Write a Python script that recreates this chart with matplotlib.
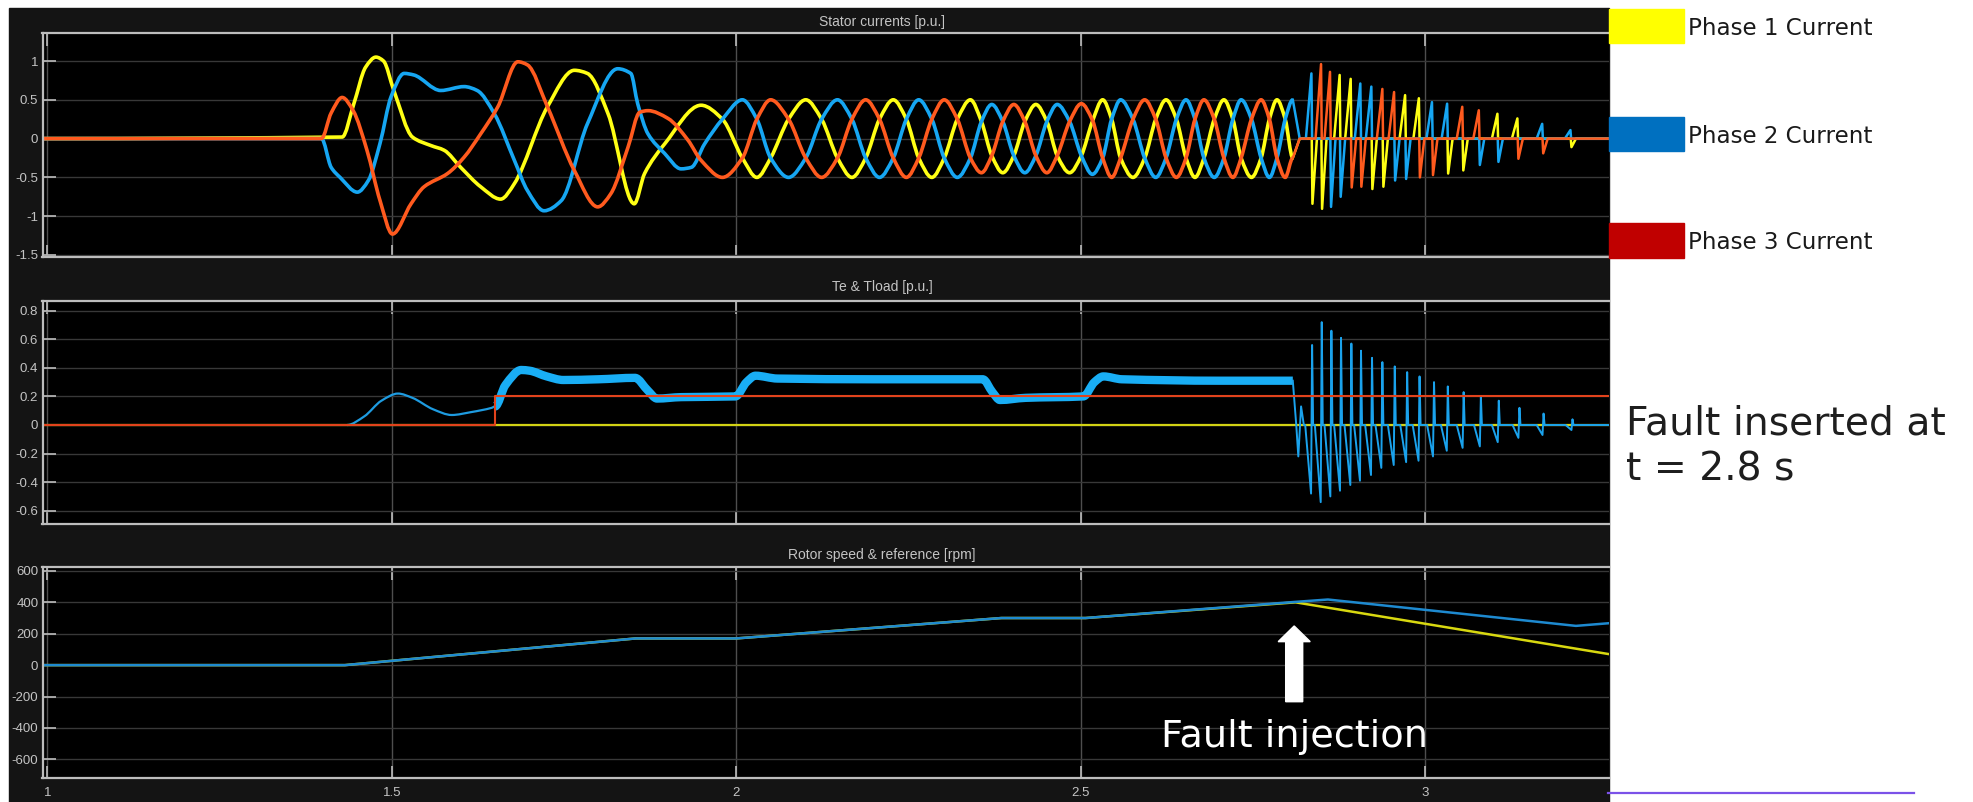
import numpy as np
import matplotlib
matplotlib.use("Agg")
import matplotlib.pyplot as plt
import matplotlib.transforms as mtransforms
from matplotlib.patches import Rectangle, FancyArrow, PathPatch
from matplotlib.lines import Line2D
from matplotlib.path import Path

# ---- time axis / shared ----
t_start, t_end = 0.993, 3.267
fault_time = 2.81
xticks = [1, 1.5, 2, 2.5, 3]
xticklabels = ["1", "1.5", "2", "2.5", "3"]

# ---- stator currents: start-up transient ----
ph1_t = [t_start, 1.428, 1.445, 1.462, 1.477, 1.488, 1.503, 1.530, 1.557, 1.576, 1.600,
         1.629, 1.658, 1.678, 1.726, 1.765, 1.784, 1.814, 1.852, 1.867, 1.896, 1.949]
ph1_v = [0, 0.02, 0.45, 0.92, 1.05, 1.0, 0.62, 0.02, -0.09, -0.15, -0.37,
         -0.62, -0.78, -0.58, 0.41, 0.88, 0.84, 0.32, -0.84, -0.45, -0.07, 0.43]
ph2_t = [t_start, 1.398, 1.412, 1.425, 1.450, 1.466, 1.483, 1.499, 1.518, 1.532, 1.571,
         1.605, 1.624, 1.649, 1.678, 1.697, 1.721, 1.746, 1.784, 1.828, 1.847, 1.857,
         1.872, 1.896, 1.920, 1.935, 1.954]
ph2_v = [0, 0, -0.37, -0.5, -0.69, -0.54, -0.06, 0.54, 0.84, 0.82, 0.62,
         0.67, 0.62, 0.32, -0.28, -0.67, -0.93, -0.8, 0.19, 0.9, 0.84, 0.45,
         0.06, -0.19, -0.39, -0.37, -0.07]
ph3_t = [t_start, 1.398, 1.412, 1.428, 1.444, 1.464, 1.483, 1.501, 1.528, 1.547, 1.581,
         1.605, 1.629, 1.654, 1.683, 1.697, 1.726, 1.765, 1.799, 1.818, 1.843, 1.860,
         1.872, 1.901, 1.930, 1.949]
ph3_v = [0, 0, 0.33, 0.53, 0.36, -0.15, -0.8, -1.23, -0.84, -0.62, -0.45,
         -0.24, 0.06, 0.41, 0.99, 0.95, 0.41, -0.41, -0.88, -0.71, -0.11, 0.34,
         0.36, 0.26, -0.02, -0.28]

# ---- stator currents: running section (peaks / crossings) ----
run_t = [1.980, 2.009, 2.030, 2.050, 2.076, 2.101,
         2.124, 2.147, 2.168, 2.188, 2.208, 2.228,
         2.247, 2.265, 2.284, 2.302, 2.321, 2.340,
         2.356, 2.371, 2.387, 2.403, 2.419, 2.435,
         2.451, 2.466, 2.484, 2.501, 2.517, 2.532,
         2.545, 2.558, 2.576, 2.593, 2.609, 2.624,
         2.639, 2.653, 2.666, 2.679, 2.694, 2.708,
         2.721, 2.733, 2.748, 2.762, 2.774, 2.785,
         2.797, 2.808]
run_ph1 = [0.25, -0.25, -0.5, -0.25, 0.25, 0.5,
           0.25, -0.25, -0.5, -0.25, 0.25, 0.5,
           0.25, -0.25, -0.5, -0.25, 0.25, 0.5,
           0.22, -0.22, -0.44, -0.22, 0.22, 0.44,
           0.22, -0.22, -0.44, -0.22, 0.22, 0.5,
           0.25, -0.25, -0.5, -0.25, 0.25, 0.5,
           0.25, -0.25, -0.5, -0.25, 0.25, 0.5,
           0.25, -0.25, -0.5, -0.25, 0.25, 0.5,
           0.25, -0.25]
run_ph2 = [0.25, 0.5, 0.25, -0.25, -0.5, -0.25,
           0.25, 0.5, 0.25, -0.25, -0.5, -0.25,
           0.25, 0.5, 0.25, -0.25, -0.5, -0.25,
           0.22, 0.44, 0.22, -0.22, -0.44, -0.22,
           0.22, 0.44, 0.22, -0.22, -0.46, -0.25,
           0.25, 0.5, 0.25, -0.25, -0.5, -0.25,
           0.25, 0.5, 0.25, -0.25, -0.5, -0.25,
           0.25, 0.5, 0.25, -0.25, -0.5, -0.25,
           0.25, 0.5]
run_ph3 = [-0.5, -0.25, 0.25, 0.5, 0.25, -0.25,
           -0.5, -0.25, 0.25, 0.5, 0.25, -0.25,
           -0.5, -0.25, 0.25, 0.5, 0.25, -0.25,
           -0.44, -0.22, 0.22, 0.44, 0.22, -0.22,
           -0.44, -0.22, 0.22, 0.45, 0.24, -0.25,
           -0.5, -0.25, 0.25, 0.5, 0.25, -0.25,
           -0.5, -0.25, 0.25, 0.5, 0.25, -0.25,
           -0.5, -0.25, 0.25, 0.5, 0.25, -0.25,
           -0.5, -0.25]

# ---- stator currents after the fault: spike pairs ----
spike_t = [2.835, 2.849, 2.862, 2.876, 2.892, 2.906, 2.922, 2.938, 2.955, 2.971,
           2.991, 3.010, 3.032, 3.054, 3.078, 3.105, 3.134, 3.170, 3.211]
spike_up_phase = [2, 3, 3, 1, 1, 2, 2, 3, 3, 1, 1, 2, 2, 3, 3, 1, 1, 2, 2]
spike_up_amp = [0.84, 0.96, 0.86, 0.82, 0.77, 0.71, 0.67, 0.64, 0.60, 0.56,
                0.52, 0.47, 0.45, 0.41, 0.365, 0.32, 0.26, 0.19, 0.11]
spike_dn_phase = [1, 1, 2, 2, 3, 3, 1, 1, 2, 2, 3, 3, 1, 1, 2, 2, 3, 3, 1]
spike_dn_amp = [-0.84, -0.905, -0.88, -0.75, -0.63, -0.62, -0.65, -0.62, -0.54, -0.52,
                -0.50, -0.47, -0.45, -0.41, -0.34, -0.30, -0.26, -0.19, -0.11]

# ---- electromagnetic torque & load torque ----
te_t = [1.435, 1.460, 1.485, 1.509, 1.530, 1.560, 1.587, 1.615, 1.645, 1.650]
te_v = [0, 0.06, 0.17, 0.22, 0.19, 0.11, 0.07, 0.09, 0.12, 0.13]
te_band_t = [1.650, 1.665, 1.688, 1.700, 1.725, 1.749, 1.800, 1.853, 1.872, 1.885, 1.920,
             1.999, 2.015, 2.028, 2.060, 2.200, 2.358, 2.372, 2.383, 2.420, 2.504,
             2.520, 2.533, 2.560, 2.700, 2.808]
te_band_v = [0.13, 0.28, 0.385, 0.38, 0.34, 0.315, 0.32, 0.33, 0.24, 0.185, 0.195,
             0.20, 0.30, 0.345, 0.325, 0.32, 0.32, 0.23, 0.175, 0.19, 0.20,
             0.30, 0.34, 0.32, 0.31, 0.31]
te_spike_t = [2.836, 2.850, 2.864, 2.878, 2.893, 2.907, 2.923, 2.938, 2.956, 2.974,
              2.992, 3.013, 3.033, 3.056, 3.081, 3.107, 3.137, 3.172, 3.214]
te_spike_up = [0.56, 0.72, 0.66, 0.61, 0.57, 0.52, 0.47, 0.44, 0.41, 0.37,
               0.34, 0.30, 0.27, 0.23, 0.20, 0.17, 0.12, 0.08, 0.04]
te_spike_dn = [-0.48, -0.54, -0.50, -0.46, -0.42, -0.39, -0.35, -0.30, -0.28, -0.26,
               -0.25, -0.22, -0.18, -0.16, -0.15, -0.12, -0.09, -0.07, -0.035]
tload_t = [t_start, 1.650, 1.650, t_end]
tload_v = [0, 0, 0.2, 0.2]

# ---- rotor speed & reference ----
speed_t = [t_start, 1.432, 1.854, 2.000, 2.385, 2.507, 2.812, 2.859, 3.219, t_end]
speed_v = [0, 0, 170, 170, 300, 300, 403, 418, 250, 267]
ref_t = [t_start, 1.432, 1.854, 2.000, 2.385, 2.507, 2.812, t_end]
ref_v = [0, 0, 170, 170, 300, 300, 400, 70]

legend_labels = ["Phase 1 Current", "Phase 2 Current", "Phase 3 Current"]
legend_colors = ["#FFFF00", "#0070C0", "#C00000"]

# ---- colours ----
C_YEL = "#FFFF14"
C_BLU = "#16A6F2"
C_ORG = "#FF5A1E"
PANEL_BG = "#141414"
TXT = "#c4c4c4"
NOTE_FONT = "DejaVu Sans"


def smooth_path(t, v):
    """Monotone cubic (Bezier) path through the given knots."""
    t = np.asarray(t, float)
    v = np.asarray(v, float)
    d = np.diff(v) / np.diff(t)
    m = np.zeros_like(v)
    for i in range(1, len(v) - 1):
        if d[i - 1] * d[i] > 0:
            m[i] = 2 / (1 / d[i - 1] + 1 / d[i])
    verts = [(t[0], v[0])]
    codes = [Path.MOVETO]
    for i in range(len(t) - 1):
        h = t[i + 1] - t[i]
        verts += [(t[i] + h / 3, v[i] + m[i] * h / 3),
                  (t[i + 1] - h / 3, v[i + 1] - m[i + 1] * h / 3),
                  (t[i + 1], v[i + 1])]
        codes += [Path.CURVE4] * 3
    return Path(verts, codes)


def phase_after_fault(phase, t0, v0):
    t, v = [t0, 2.818], [v0, 0.0]
    for ts, up, ua, dn, da in zip(spike_t, spike_up_phase, spike_up_amp,
                                  spike_dn_phase, spike_dn_amp):
        if up == phase:
            t += [ts - 0.008, ts, ts + 0.001]
            v += [0.0, ua, 0.0]
        if dn == phase:
            t += [ts + 0.0005, ts + 0.0015, ts + 0.008]
            v += [0.0, da, 0.0]
    t.append(t_end)
    v.append(0.0)
    order = np.argsort(t, kind="stable")
    return np.array(t)[order], np.array(v)[order]


def te_after_fault():
    t = [2.808, 2.813, 2.816, 2.820, 2.824]
    v = [0.31, 0.0, -0.22, 0.13, 0.0]
    for ts, up, dn in zip(te_spike_t, te_spike_up, te_spike_dn):
        t += [ts - 0.010, ts - 0.0015, ts, ts + 0.0015]
        v += [0.0, dn, up, 0.0]
    t.append(t_end)
    v.append(0.0)
    return t, v


W, H = 1973, 802
fig = plt.figure(figsize=(W / 100, H / 100), dpi=100)
fig.patch.set_facecolor("white")

# dark scope panel
fig.patches.append(Rectangle((9 / W, 0), (1609 - 9) / W, 1 - 8 / H,
                             transform=fig.transFigure, color=PANEL_BG, zorder=-5))

AX_L, AX_R = 42.5, 1609


def make_axes(top, bottom):
    ax = fig.add_axes([AX_L / W, 1 - bottom / H, (AX_R - AX_L) / W, (bottom - top) / H])
    ax.set_facecolor("black")
    ax.set_xlim(t_start, t_end)
    ax.set_xticks(xticks)
    for side in ["top", "bottom", "left"]:
        ax.spines[side].set_color("#bdbdbd")
        ax.spines[side].set_linewidth(1.6)
    ax.spines["right"].set_visible(False)
    ax.tick_params(direction="in", length=9, width=1.2, color="#bdbdbd",
                   labelcolor=TXT, labelsize=9.5, pad=3, top=True)
    ax.xaxis.grid(True, color="#4e4e4e", lw=1.0)
    ax.yaxis.grid(True, color="#383838", lw=1.0)
    ax.set_axisbelow(True)
    return ax


ax1 = make_axes(33.3, 256.7)
ax2 = make_axes(300.7, 524.0)
ax3 = make_axes(566.7, 778.3)

# stator currents
phase_data = [(ph1_t, ph1_v, run_ph1, C_YEL), (ph2_t, ph2_v, run_ph2, C_BLU),
              (ph3_t, ph3_v, run_ph3, C_ORG)]
for k, (tt, vv, rv, col) in enumerate(phase_data, start=1):
    t_all = np.concatenate([tt, run_t])
    v_all = np.concatenate([vv, rv])
    ax1.add_patch(PathPatch(smooth_path(t_all, v_all), facecolor="none",
                            edgecolor=col, lw=2.6, joinstyle="round"))
    ft, fv = phase_after_fault(k, t_all[-1], v_all[-1])
    ax1.plot(ft, fv, color=col, lw=1.8, solid_joinstyle="round")
ax1.set_ylim(-1.522, 1.357)
ax1.set_yticks([-1.5, -1, -0.5, 0, 0.5, 1])
ax1.set_yticklabels(["-1.5", "-1", "-0.5", "0", "0.5", "1"], family="Liberation Sans")
ax1.set_xticklabels([])

# torque
ax2.plot([t_start, t_end], [0, 0], color="#D2D214", lw=1.6)
ax2.add_patch(PathPatch(smooth_path(te_t, te_v), facecolor="none",
                        edgecolor="#1E9BE0", lw=1.6))
ax2.add_patch(PathPatch(smooth_path(te_band_t, te_band_v), facecolor="none",
                        edgecolor="#19AEF5", lw=6.0, joinstyle="round"))
ft, fv = te_after_fault()
ax2.plot(ft, fv, color="#1AA2EC", lw=1.4)
ax2.plot(tload_t, tload_v, color="#E2431C", lw=1.5)
ax2.set_ylim(-0.693, 0.87)
ax2.set_yticks([-0.6, -0.4, -0.2, 0, 0.2, 0.4, 0.6, 0.8])
ax2.set_yticklabels(["-0.6", "-0.4", "-0.2", "0", "0.2", "0.4", "0.6", "0.8"],
                    family="Liberation Sans")
ax2.set_xticklabels([])

# speed
ax3.plot(ref_t, ref_v, color="#D8D810", lw=1.8)
ax3.plot(speed_t, speed_v, color="#1E8AD0", lw=1.8)
ax3.set_ylim(-721, 627)
ax3.set_yticks([-600, -400, -200, 0, 200, 400, 600])
ax3.set_yticklabels(["-600", "-400", "-200", "0", "200", "400", "600"],
                    family="Liberation Sans")
ax3.set_xticklabels(xticklabels, family="Liberation Sans")
ax3.tick_params(axis="x", pad=6)

# panel titles
for txt, y in [("Stator currents [p.u.]", 21.7), ("Te & Tload [p.u.]", 287.3),
               ("Rotor speed & reference [rpm]", 555.0)]:
    fig.text(882 / W, 1 - y / H, txt, ha="center", va="center", color=TXT,
             fontsize=10, family="Liberation Sans")

# fault marker
blend = mtransforms.blended_transform_factory(ax3.transData, ax3.transAxes)
ax3.add_patch(FancyArrow(fault_time, 0.362, 0, 0.358, width=17 / 688,
                         head_width=32 / 688, head_length=15.7 / 211.6,
                         length_includes_head=True, transform=blend,
                         color="white", zorder=5))
ax3.text(fault_time, 0.1465, "Fault injection", transform=blend, ha="center",
         va="baseline", color="white", fontsize=27.5, family=NOTE_FONT, zorder=5)

# legend boxes to the right
for lab, col, (y0, y1), yb in zip(legend_labels, legend_colors,
                                  [(9.3, 43.3), (116.7, 150.7), (223.0, 258.0)],
                                  [35.0, 142.7, 249.3]):
    fig.patches.append(Rectangle((1609 / W, 1 - y1 / H), 75 / W, (y1 - y0) / H,
                                 transform=fig.transFigure, color=col, zorder=2))
    fig.text(1688 / W, 1 - yb / H, lab, ha="left", va="baseline",
             color="#1a1a1a", fontsize=16.6, family=NOTE_FONT)

fig.text(1626 / W, 1 - 434 / H, "Fault inserted at", ha="left", va="baseline",
         color="#1e1e1e", fontsize=28.3, family=NOTE_FONT)
fig.text(1626 / W, 1 - 480.7 / H, f"t = {fault_time:.1f} s", ha="left",
         va="baseline", color="#1e1e1e", fontsize=28.3, family=NOTE_FONT)

fig.lines.append(Line2D([1608 / W, 1914 / W], [1 - 792.7 / H, 1 - 792.7 / H],
                        transform=fig.transFigure, color="#7B52E8", lw=1.6))

fig.savefig("out.png", dpi=100, facecolor="white")
